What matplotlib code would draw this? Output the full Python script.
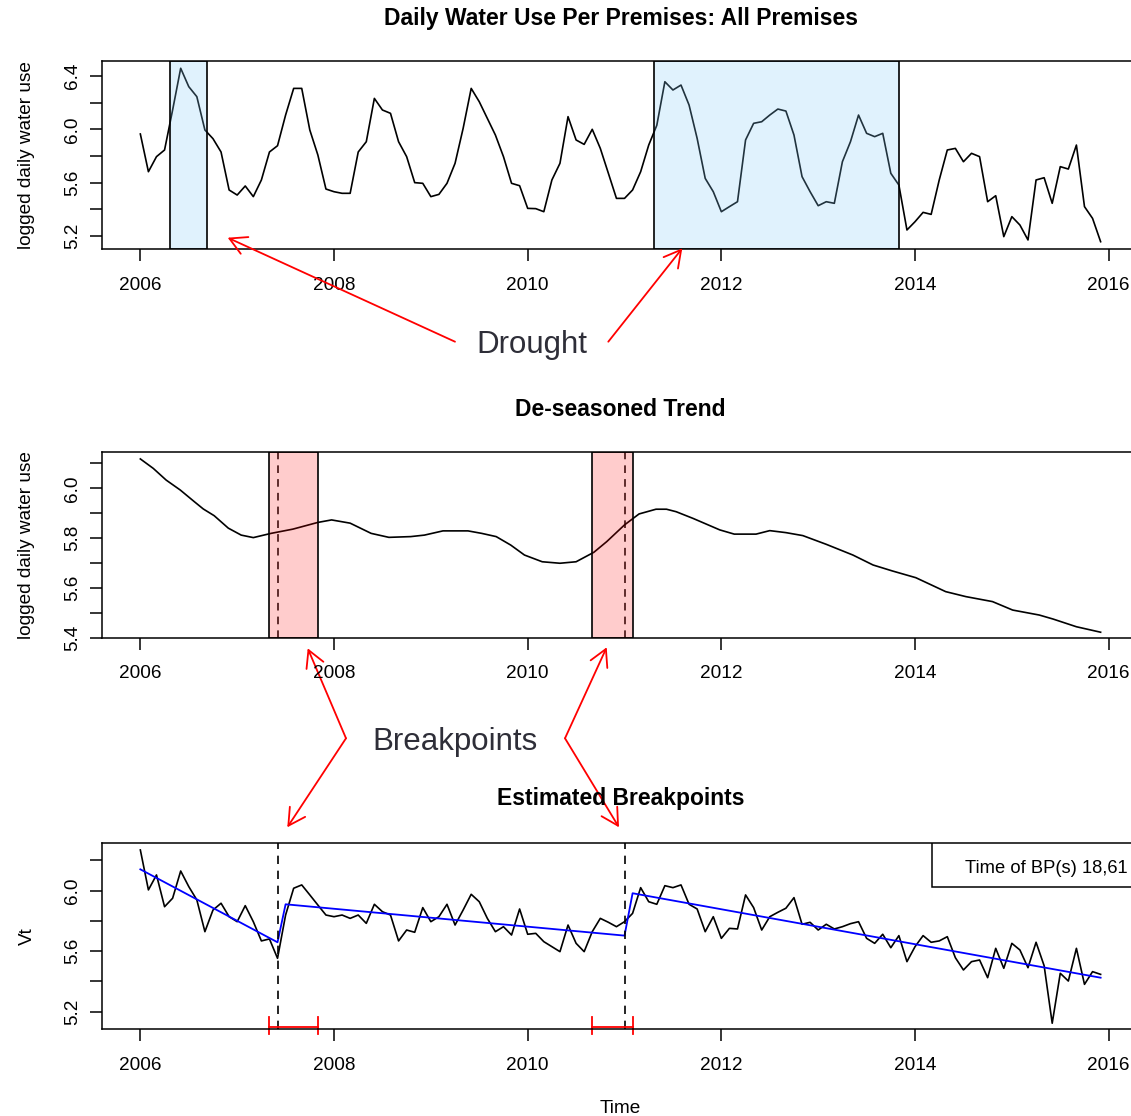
import numpy as np
import matplotlib.pyplot as plt
from matplotlib.patches import Rectangle

plt.rcParams['font.family'] = ['Liberation Sans', 'DejaVu Sans']

# ---- data ----
start_year = 2006
water_use = [5.965, 5.682, 5.795, 5.845, 6.145, 6.458, 6.320, 6.245, 5.995, 5.930,
             5.830, 5.545, 5.507, 5.575, 5.495, 5.620, 5.830, 5.877, 6.107, 6.307,
             6.307, 5.995, 5.807, 5.552, 5.532, 5.520, 5.520, 5.830, 5.907, 6.232,
             6.145, 6.120, 5.907, 5.795, 5.600, 5.595, 5.495, 5.512, 5.595, 5.745,
             6.007, 6.307, 6.207, 6.082, 5.957, 5.795, 5.595, 5.577, 5.407, 5.405,
             5.382, 5.620, 5.745, 6.095, 5.920, 5.887, 6.000, 5.857, 5.670, 5.482,
             5.482, 5.545, 5.682, 5.882, 6.030, 6.357, 6.295, 6.332, 6.182, 5.932,
             5.632, 5.532, 5.382, 5.420, 5.457, 5.920, 6.045, 6.057, 6.107, 6.152,
             6.137, 5.957, 5.645, 5.532, 5.427, 5.457, 5.445, 5.757, 5.907, 6.107,
             5.970, 5.945, 5.970, 5.670, 5.582, 5.245, 5.307, 5.377, 5.362, 5.620,
             5.845, 5.857, 5.757, 5.820, 5.795, 5.457, 5.502, 5.195, 5.345, 5.282,
             5.170, 5.620, 5.637, 5.445, 5.720, 5.702, 5.882, 5.420, 5.332, 5.157]

trend_month = [0, 1.6, 3.2, 4.95, 6.7, 7.8, 9.15, 10.9, 12.5, 14.0, 16.2, 18.9, 22.0,
               23.7, 26, 28.6, 30.8, 33.5, 35.2, 37.5, 40.6, 42.3, 44.1, 45.9, 47.6,
               49.8, 52.0, 54.0, 56.2, 57.8, 60.0, 61.8, 63.9, 65.2, 66.4, 68.5, 71.8,
               73.6, 76.3, 78, 80, 82.1, 85, 88.3, 90.8, 93.2, 96.1, 99.8, 102.3,
               105.6, 108.1, 111.4, 113.1, 116, 119]
trend_value = [6.118, 6.080, 6.033, 5.993, 5.946, 5.917, 5.890, 5.840, 5.812, 5.802,
               5.819, 5.836, 5.863, 5.873, 5.860, 5.819, 5.803, 5.806, 5.812, 5.829,
               5.829, 5.819, 5.806, 5.772, 5.732, 5.705, 5.699, 5.705, 5.743, 5.786,
               5.853, 5.897, 5.916, 5.916, 5.906, 5.879, 5.833, 5.816, 5.816, 5.830,
               5.822, 5.810, 5.775, 5.732, 5.692, 5.668, 5.641, 5.585, 5.565, 5.545,
               5.511, 5.491, 5.475, 5.444, 5.422]

vt = [6.269, 6.005, 6.104, 5.894, 5.950, 6.130, 6.027, 5.939, 5.729, 5.872,
      5.917, 5.828, 5.795, 5.901, 5.795, 5.668, 5.681, 5.553, 5.839, 6.016,
      6.038, 5.972, 5.905, 5.839, 5.828, 5.839, 5.817, 5.839, 5.784, 5.910,
      5.861, 5.839, 5.668, 5.740, 5.725, 5.888, 5.795, 5.828, 5.910, 5.773,
      5.872, 5.976, 5.927, 5.817, 5.729, 5.762, 5.707, 5.879, 5.712, 5.718,
      5.663, 5.630, 5.597, 5.773, 5.652, 5.597, 5.729, 5.817, 5.791, 5.762,
      5.795, 5.850, 6.020, 5.927, 5.910, 6.033, 6.020, 6.038, 5.910, 5.879,
      5.729, 5.828, 5.685, 5.751, 5.747, 5.972, 5.888, 5.740, 5.828, 5.857,
      5.884, 5.954, 5.778, 5.791, 5.740, 5.778, 5.747, 5.762, 5.782, 5.795,
      5.685, 5.652, 5.712, 5.623, 5.703, 5.531, 5.630, 5.703, 5.659, 5.668,
      5.696, 5.557, 5.476, 5.531, 5.542, 5.425, 5.619, 5.487, 5.652, 5.608,
      5.491, 5.659, 5.504, 5.124, 5.454, 5.403, 5.619, 5.381, 5.465, 5.447]

fit_month = [0, 17, 18, 60, 61, 119]
fit_value = [6.141, 5.659, 5.910, 5.703, 5.983, 5.425]

drought_start = [2006.31, 2011.30]
drought_end = [2006.69, 2013.83]

breakpoints = [18, 61]          # observation number
bp_ci_low = [17, 57]
bp_ci_high = [23, 62]

x_ticks = [2006, 2008, 2010, 2012, 2014, 2016]
top_yticks = [5.2, 5.4, 5.6, 5.8, 6.0, 6.2, 6.4]
top_ylabels = ['5.2', '', '5.6', '', '6.0', '', '6.4']
mid_yticks = [5.4, 5.5, 5.6, 5.7, 5.8, 5.9, 6.0, 6.1]
mid_ylabels = ['5.4', '', '5.6', '', '5.8', '', '6.0', '']
bot_yticks = [5.2, 5.4, 5.6, 5.8, 6.0, 6.2]
bot_ylabels = ['5.2', '', '5.6', '', '6.0', '']

# ---- layout ----
W, H = 1131, 1116
fig = plt.figure(figsize=(W / 100, H / 100), dpi=100)

def obs_time(i):
    return start_year + (np.asarray(i, dtype=float) - 1) / 12

def month_time(m):
    return start_year + np.asarray(m, dtype=float) / 12

def make_axes(top, bottom, ylim, yticks, ylabels):
    ax = fig.add_axes([101.9 / W, 1 - bottom / H, (1139 - 101.9) / W, (bottom - top) / H])
    ax.set_xlim(2005.603, 2016.313)
    ax.set_ylim(*ylim)
    ax.set_xticks(x_ticks)
    ax.set_xticklabels([str(t) for t in x_ticks])
    ax.set_yticks(yticks)
    ax.set_yticklabels(ylabels)
    ax.tick_params(axis='both', direction='out', length=8.6, width=1.1, labelsize=13.7)
    ax.tick_params(axis='x', pad=11)
    ax.tick_params(axis='y', pad=6.5, labelrotation=90)
    for lbl in ax.get_yticklabels():
        lbl.set_va('center')
    for s in ax.spines.values():
        s.set_linewidth(1.1)
    return ax

t = month_time(np.arange(len(water_use)))

# top panel
ax1 = make_axes(61, 249.3, (5.10, 6.5125), top_yticks, top_ylabels)
ax1.plot(t, water_use, color='black', lw=1.2, zorder=2)
for a, b in zip(drought_start, drought_end):
    ax1.axvspan(a, b, facecolor=(135 / 255, 206 / 255, 250 / 255, 0.25),
                edgecolor='black', lw=1.2, zorder=3)

# middle panel
ax2 = make_axes(451.7, 637.7, (5.40, 6.147), mid_yticks, mid_ylabels)
ax2.plot(month_time(trend_month), trend_value, color='black', lw=1.2, zorder=2)
for bp, lo, hi in zip(breakpoints, bp_ci_low, bp_ci_high):
    ax2.axvline(obs_time(bp), color='black', lw=1.1, ls=(0, (5, 4)), zorder=2)
    ax2.axvspan(obs_time(lo), obs_time(hi), facecolor=(1, 0, 0, 0.2),
                edgecolor='black', lw=1.2, zorder=3)

# bottom panel
ax3 = make_axes(843.3, 1029.3, (5.084, 6.313), bot_yticks, bot_ylabels)
ax3.plot(t, vt, color='black', lw=1.2)
ax3.plot(month_time(fit_month), fit_value, color='blue', lw=1.3)
for bp, lo, hi in zip(breakpoints, bp_ci_low, bp_ci_high):
    ax3.axvline(obs_time(bp), color='black', lw=1.2, ls=(0, (5, 4)))
    y0 = 5.101
    ax3.plot([obs_time(lo), obs_time(hi)], [y0, y0], color='red', lw=1.3, clip_on=False)
    for xx in (obs_time(lo), obs_time(hi)):
        ax3.plot([xx, xx], [y0 - 0.05, y0 + 0.065], color='red', lw=1.3, clip_on=False)
ax3.add_patch(Rectangle((0.800, 0.767), 0.2, 0.233, transform=ax3.transAxes,
                        facecolor='white', edgecolor='black', lw=1.1, zorder=5))
ax3.text(965, H - 868.3, 'Time of BP(s) 18,61', transform=None, fontsize=13.2,
         va='center', ha='left', zorder=6)

# titles and axis labels
cx = 620.5 / W
fig.text(cx, 1 - 18.3 / H, 'Daily Water Use Per Premises: All Premises',
         ha='center', va='center', fontsize=16.5, fontweight='bold')
fig.text(cx, 1 - 409.5 / H, 'De-seasoned Trend', ha='center', va='center',
         fontsize=16.5, fontweight='bold')
fig.text(cx, 1 - 798.5 / H, 'Estimated Breakpoints', ha='center', va='center',
         fontsize=16.5, fontweight='bold')
fig.text(27 / W, 1 - 155.2 / H, 'logged daily water use', rotation=90,
         ha='center', va='center', fontsize=13.7)
fig.text(27 / W, 1 - 544.7 / H, 'logged daily water use', rotation=90,
         ha='center', va='center', fontsize=13.7)
fig.text(27 / W, 1 - 936 / H, 'Vt', rotation=90, ha='center', va='center', fontsize=13.7)
fig.text(cx, 1 - 1108.3 / H, 'Time', ha='center', va='center', fontsize=13.7)

# annotations
ann_color = '#2e2e38'
fig.text(532 / W, 1 - 353 / H, 'Drought', ha='center', va='baseline',
         fontsize=22.5, color=ann_color)
fig.text(455 / W, 1 - 750 / H, 'Breakpoints', ha='center', va='baseline',
         fontsize=22.5, color=ann_color)

arrow_props = dict(arrowstyle='->,head_length=0.6,head_width=0.33', color='red',
                   lw=1.3, shrinkA=0, shrinkB=0, mutation_scale=20)
arrows = [((455, 341.7), (227.7, 237.7)), ((608.3, 341.7), (682.3, 248.3)),
          ((346, 738.3), (307.7, 648.3)), ((346, 738.3), (287.3, 827.3)),
          ((565, 738.3), (606.7, 647.3)), ((565, 738.3), (619, 827.3))]
for tail, head in arrows:
    ax1.annotate('', xy=(head[0], H - head[1]), xytext=(tail[0], H - tail[1]),
                 xycoords='figure pixels', textcoords='figure pixels',
                 arrowprops=arrow_props, annotation_clip=False)

fig.savefig('out.png', dpi=100)
